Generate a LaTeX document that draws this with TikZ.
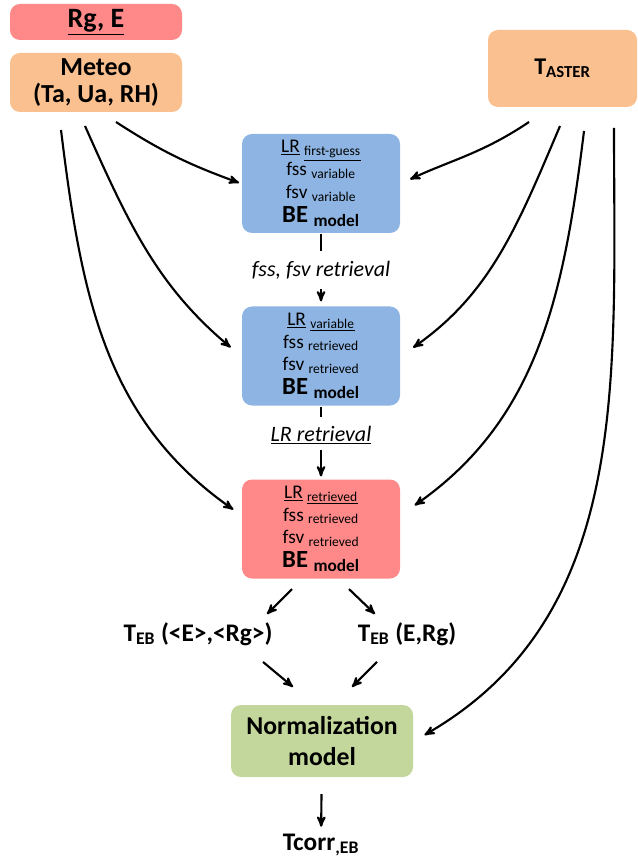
\documentclass[tikz,border=0pt]{standalone}
\usepackage{fontspec}
\setmainfont{Carlito}
\usetikzlibrary{arrows,shapes,positioning}

\definecolor{salmon}{RGB}{255,137,137}
\definecolor{peach}{RGB}{250,192,143}
\definecolor{skyblue}{RGB}{141,180,226}
\definecolor{sage}{RGB}{195,214,155}

\begin{document}
\begin{tikzpicture}[x=0.75pt,y=0.75pt,>=stealth',line width=1.6pt]

  					\tikzstyle{box}=[rectangle,rounded corners=7.5pt,align=center,inner sep=0pt]
  					\tikzstyle{model}=[box,minimum width=118.5pt,minimum height=74.25pt,font=\fontsize{14.5}{17}\selectfont]
  					\tikzstyle{lab}=[inner sep=0pt,font=\itshape\fontsize{16.5}{18}\selectfont]
  					\tikzstyle{teb}=[inner sep=0pt,font=\bfseries\fontsize{19}{21}\selectfont]

		    		\useasboundingbox (0,0) rectangle (637,-862);

		    		% inputs
		    		\node [box,fill=salmon,minimum width=129pt,minimum height=27pt,font=\bfseries\fontsize{21}{22}\selectfont] (rge) at (96,-22) {\underline{Rg, E}};
		    		\node [box,fill=peach,minimum width=129pt,minimum height=44.25pt,font=\bfseries\fontsize{19.5}{20}\selectfont] (meteo) at (96,-82.5) {Meteo\\(Ta, Ua, RH)};
		    		\node [box,fill=peach,minimum width=111.75pt,minimum height=57.75pt,font=\bfseries\fontsize{18}{20}\selectfont] (taster) at (562.5,-68.5) {T\textsubscript{ASTER}};

		    		% energy balance steps
		    		\node [model,fill=skyblue] (guess) at (321,-183.5) {\underline{LR} \underline{\textsubscript{first-guess}}\\fss \textsubscript{variable}\\fsv \textsubscript{variable}\\[1pt]{\bfseries\fontsize{18.5}{18}\selectfont BE \textsubscript{model}}};
		    		\node [lab] (fssret) at (321,-270) {fss, fsv retrieval};
		    		\node [model,fill=skyblue] (var) at (321,-356) {\underline{LR} \underline{\textsubscript{variable}}\\fss \textsubscript{retrieved}\\fsv \textsubscript{retrieved}\\[1pt]{\bfseries\fontsize{18.5}{18}\selectfont BE \textsubscript{model}}};
		    		\node [lab] (lrret) at (321,-435) {\underline{LR retrieval}};
		    		\node [model,fill=salmon] (ret) at (321,-529) {\underline{LR} \underline{\textsubscript{retrieved}}\\fss \textsubscript{retrieved}\\fsv \textsubscript{retrieved}\\[1pt]{\bfseries\fontsize{18.5}{18}\selectfont BE \textsubscript{model}}};

		    		\node [teb] (tebmean) at (198,-634) {T\textsubscript{EB} (<E>,<Rg>)};
		    		\node [teb] (tebinst) at (407,-634) {T\textsubscript{EB} (E,Rg)};

		    		\node [box,fill=sage,minimum width=136.5pt,minimum height=54pt,font=\bfseries\fontsize{19.3}{23}\selectfont] (norm) at (322,-741) {Normalization\\model};
		    		\node [teb] (tcorr) at (321,-845) {Tcorr\textsubscript{,EB}};

		    		% free ends of the curved inputs
		    		\coordinate (m1) at (61,-130);
		    		\coordinate (m2) at (85,-126);
		    		\coordinate (m3) at (116,-122);
		    		\coordinate (t1) at (529,-122);
		    		\coordinate (t2) at (560,-126);
		    		\coordinate (t3) at (584,-131);
		    		\coordinate (t4) at (614,-128);

		    		\draw [->,shorten >=1.5pt] (m3) to [out=-33,in=160] (guess.west);
		    		\draw [->,shorten >=10pt] (m2) to [out=-66,in=140] (var.west);
		    		\draw [->,shorten >=7pt] (m1) to [out=-83,in=145] (ret.170);
		    		\draw [->,shorten >=7.5pt] (t1) to [out=214,in=25] (guess.east);
		    		\draw [->,shorten >=11pt] (t2) to [out=247,in=35] (var.east);
		    		\draw [->,shorten >=12.5pt] (t3) to [out=263,in=35] (ret.10);
		    		\draw [->,shorten >=9pt] (t4) to [out=270,in=30] (norm.east);

		    		% main chain
		    		\draw [shorten >=7pt] (guess) -- (fssret);
		    		\draw [->,shorten <=7pt,shorten >=3pt] (fssret) -- (var);
		    		\draw [shorten >=6pt] (var) -- (lrret);
		    		\draw [->,shorten <=4pt,shorten >=1.5pt] (lrret) -- (ret);

		    		\draw [->] (ret.south) ++(-29,-9.5) -- ++(-25,-25);
		    		\draw [->] (ret.south) ++(28,-9.5) -- ++(26,-25);
		    		\draw [->] (norm.north) ++(-59,42) -- ++(30,-25);
		    		\draw [->] (norm.north) ++(55,42) -- ++(-25,-25);

		    		\draw [->,shorten <=12pt,shorten >=4.5pt] (norm) -- (tcorr);
				\end{tikzpicture}
\end{document}
